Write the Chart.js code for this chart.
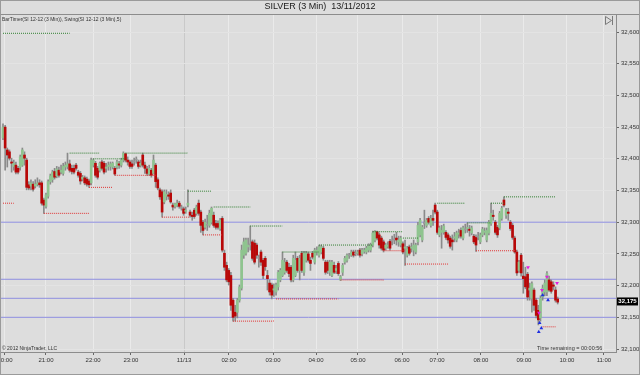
<!DOCTYPE html>
<html>
<head>
<meta charset="utf-8">
<script src="https://cdn.jsdelivr.net/npm/chart.js@4.4.1/dist/chart.umd.min.js"></script>
<style>
html,body{margin:0;padding:0;background:#dcdcdc;}
#wrap{width:640px;height:375px;position:relative;}
</style>
</head>
<body>
<div id="wrap"><canvas id="c" width="640" height="375"></canvas></div>
<script>
// ---- DATA (3-minute bars, SILVER) ----
const openP = [
32.433,32.450,32.414,32.411,32.395,32.388,32.390,32.385,32.387,32.390,
32.406,32.398,32.359,32.357,32.360,32.357,32.360,32.362,32.362,32.335,
32.325,32.341,32.364,32.367,32.380,32.373,32.382,32.379,32.377,32.387,
32.388,32.392,32.385,32.385,32.390,32.379,32.377,32.368,32.370,32.368,
32.365,32.362,32.390,32.393,32.385,32.382,32.395,32.393,32.385,32.388,
32.388,32.387,32.385,32.387,32.392,32.390,32.398,32.408,32.398,32.395,
32.392,32.395,32.398,32.395,32.390,32.406,32.390,32.384,32.376,32.382,
32.377,32.390,32.367,32.351,32.348,32.332,32.341,32.343,32.346,32.327,
32.325,32.327,32.330,32.324,32.321,32.317,32.327,32.316,32.311,32.319,
32.314,32.330,32.316,32.300,32.292,32.295,32.295,32.300,32.311,32.298,
32.298,32.290,32.306,32.251,32.232,32.224,32.216,32.177,32.158,32.158,
32.177,32.196,32.248,32.251,32.261,32.266,32.269,32.267,32.264,32.245,
32.253,32.240,32.243,32.216,32.204,32.201,32.193,32.190,32.198,32.209,
32.216,32.221,32.237,32.229,32.229,32.209,32.216,32.243,32.224,32.251,
32.221,32.240,32.250,32.240,32.251,32.237,32.253,32.248,32.253,32.259,
32.237,32.237,32.221,32.216,32.232,32.224,32.235,32.209,32.221,32.237,
32.240,32.247,32.248,32.253,32.250,32.251,32.256,32.250,32.254,32.253,
32.256,32.256,32.264,32.272,32.285,32.280,32.275,32.269,32.259,32.262,
32.270,32.272,32.272,32.275,32.269,32.264,32.266,32.259,32.248,32.261,
32.259,32.256,32.253,32.269,32.280,32.272,32.298,32.295,32.306,32.295,
32.306,32.327,32.316,32.280,32.284,32.284,32.284,32.280,32.275,32.272,
32.275,32.272,32.281,32.287,32.275,32.288,32.290,32.289,32.283,32.278,
32.276,32.277,32.269,32.280,32.284,32.272,32.283,32.298,32.311,32.300,
32.292,32.291,32.306,32.335,32.311,32.316,32.300,32.295,32.275,32.253,
32.224,32.248,32.215,32.214,32.218,32.193,32.180,32.193,32.177,32.161,
32.149,32.182,32.190,32.190,32.209,32.206,32.201,32.193,32.179];
const highP = [
32.455,32.453,32.417,32.414,32.401,32.398,32.395,32.388,32.406,32.417,
32.411,32.401,32.364,32.367,32.364,32.367,32.370,32.367,32.365,32.338,
32.346,32.367,32.376,32.382,32.385,32.388,32.387,32.390,32.393,32.395,
32.409,32.398,32.390,32.390,32.393,32.382,32.380,32.374,32.373,32.371,
32.368,32.401,32.400,32.396,32.388,32.395,32.398,32.396,32.393,32.395,
32.395,32.395,32.388,32.398,32.396,32.401,32.411,32.409,32.403,32.398,
32.398,32.401,32.403,32.398,32.398,32.409,32.395,32.388,32.390,32.385,
32.406,32.393,32.370,32.354,32.351,32.351,32.351,32.348,32.351,32.330,
32.330,32.335,32.333,32.327,32.324,32.324,32.351,32.319,32.316,32.322,
32.327,32.335,32.319,32.303,32.305,32.311,32.319,32.324,32.316,32.303,
32.302,32.306,32.309,32.256,32.237,32.227,32.221,32.180,32.169,32.180,
32.201,32.264,32.275,32.275,32.275,32.294,32.272,32.272,32.267,32.248,
32.256,32.243,32.246,32.224,32.209,32.204,32.203,32.204,32.224,32.227,
32.253,32.243,32.240,32.235,32.232,32.248,32.253,32.246,32.248,32.254,
32.254,32.254,32.253,32.245,32.254,32.259,32.261,32.264,32.264,32.262,
32.240,32.240,32.240,32.240,32.237,32.232,32.238,32.216,32.235,32.246,
32.250,32.251,32.256,32.256,32.256,32.256,32.259,32.259,32.259,32.262,
32.266,32.267,32.286,32.287,32.286,32.283,32.278,32.272,32.267,32.269,
32.273,32.278,32.281,32.284,32.278,32.278,32.269,32.272,32.262,32.264,
32.267,32.272,32.267,32.300,32.306,32.295,32.319,32.306,32.309,32.311,
32.319,32.330,32.319,32.294,32.295,32.297,32.287,32.283,32.278,32.280,
32.284,32.286,32.289,32.291,32.294,32.297,32.299,32.295,32.294,32.281,
32.280,32.284,32.283,32.292,32.291,32.291,32.303,32.330,32.319,32.303,
32.295,32.317,32.325,32.340,32.322,32.322,32.303,32.298,32.278,32.256,
32.240,32.251,32.237,32.229,32.221,32.204,32.206,32.196,32.180,32.169,
32.184,32.201,32.209,32.222,32.215,32.209,32.206,32.198,32.182];
const lowP = [
32.430,32.382,32.387,32.398,32.379,32.382,32.376,32.376,32.382,32.388,
32.390,32.351,32.351,32.351,32.349,32.354,32.357,32.355,32.327,32.314,
32.322,32.338,32.360,32.363,32.368,32.370,32.371,32.376,32.374,32.382,
32.384,32.379,32.376,32.376,32.382,32.371,32.360,32.365,32.359,32.357,
32.355,32.359,32.387,32.371,32.368,32.379,32.382,32.376,32.379,32.382,
32.382,32.384,32.374,32.384,32.385,32.387,32.395,32.395,32.390,32.385,
32.385,32.390,32.393,32.385,32.387,32.387,32.377,32.374,32.374,32.371,
32.376,32.355,32.351,32.336,32.308,32.329,32.335,32.336,32.330,32.319,
32.322,32.324,32.322,32.319,32.311,32.314,32.324,32.308,32.303,32.306,
32.311,32.311,32.284,32.280,32.289,32.287,32.292,32.297,32.292,32.289,
32.289,32.287,32.253,32.224,32.206,32.201,32.161,32.144,32.144,32.149,
32.174,32.193,32.243,32.248,32.253,32.256,32.240,32.234,32.243,32.229,
32.232,32.211,32.224,32.193,32.185,32.179,32.183,32.185,32.193,32.206,
32.214,32.218,32.221,32.214,32.206,32.206,32.214,32.221,32.209,32.221,
32.216,32.237,32.237,32.224,32.242,32.234,32.248,32.245,32.250,32.240,
32.218,32.219,32.216,32.214,32.219,32.219,32.216,32.208,32.216,32.234,
32.237,32.243,32.246,32.245,32.247,32.248,32.245,32.247,32.251,32.250,
32.253,32.253,32.261,32.269,32.272,32.259,32.256,32.253,32.256,32.259,
32.256,32.264,32.266,32.264,32.262,32.261,32.250,32.232,32.245,32.248,
32.253,32.247,32.250,32.264,32.277,32.269,32.290,32.292,32.297,32.292,
32.295,32.313,32.281,32.277,32.259,32.281,32.273,32.267,32.259,32.256,
32.269,32.269,32.275,32.275,32.272,32.283,32.284,32.278,32.280,32.266,
32.254,32.272,32.266,32.277,32.280,32.269,32.280,32.295,32.303,32.281,
32.276,32.288,32.303,32.324,32.306,32.303,32.287,32.273,32.251,32.216,
32.221,32.215,32.188,32.195,32.177,32.177,32.158,32.161,32.149,32.138,
32.144,32.177,32.184,32.184,32.191,32.188,32.193,32.174,32.171];
const closeP = [
32.450,32.417,32.406,32.401,32.393,32.393,32.379,32.379,32.403,32.414,
32.401,32.355,32.354,32.362,32.352,32.360,32.362,32.359,32.330,32.327,
32.343,32.364,32.373,32.379,32.371,32.384,32.374,32.382,32.388,32.390,
32.392,32.382,32.380,32.379,32.385,32.374,32.365,32.371,32.362,32.360,
32.359,32.398,32.398,32.374,32.371,32.393,32.385,32.379,32.387,32.390,
32.392,32.393,32.376,32.395,32.390,32.398,32.409,32.398,32.395,32.388,
32.388,32.396,32.398,32.388,32.393,32.390,32.385,32.377,32.385,32.374,
32.398,32.364,32.354,32.340,32.316,32.348,32.344,32.341,32.332,32.324,
32.329,32.330,32.325,32.322,32.314,32.319,32.330,32.311,32.309,32.309,
32.324,32.314,32.295,32.287,32.300,32.297,32.314,32.322,32.295,32.292,
32.292,32.303,32.256,32.229,32.209,32.206,32.169,32.150,32.152,32.177,
32.198,32.256,32.269,32.272,32.264,32.264,32.243,32.237,32.248,32.243,
32.237,32.216,32.230,32.211,32.190,32.185,32.195,32.201,32.221,32.224,
32.240,32.237,32.224,32.219,32.209,32.243,32.240,32.224,32.243,32.224,
32.251,32.251,32.240,32.235,32.245,32.256,32.256,32.261,32.261,32.243,
32.221,32.224,32.237,32.237,32.221,32.227,32.219,32.214,32.232,32.243,
32.248,32.248,32.253,32.248,32.251,32.253,32.248,32.256,32.256,32.259,
32.262,32.264,32.283,32.285,32.275,32.264,32.259,32.256,32.264,32.264,
32.259,32.270,32.273,32.272,32.272,32.275,32.253,32.261,32.258,32.251,
32.261,32.264,32.264,32.295,32.303,32.292,32.300,32.303,32.300,32.306,
32.303,32.316,32.284,32.291,32.287,32.294,32.276,32.272,32.262,32.269,
32.277,32.283,32.283,32.278,32.291,32.289,32.292,32.287,32.291,32.269,
32.264,32.276,32.280,32.289,32.286,32.287,32.300,32.314,32.309,32.284,
32.280,32.314,32.322,32.327,32.319,32.314,32.290,32.276,32.253,32.220,
32.237,32.220,32.211,32.198,32.182,32.196,32.203,32.169,32.153,32.146,
32.180,32.196,32.204,32.219,32.193,32.191,32.199,32.177,32.174];

// x-axis time labels (positioned by bar index)
const xTickPos    = [0.93, 20.0, 41.9, 59.5, 84.2, 105.1, 125.6, 145.6, 165.1, 185.6, 201.9, 222.3, 242.3, 262.3, 279.5];
const xTickLabels = ['20:00','21:00','22:00','23:00','11/13','02:00','03:00','04:00','05:00','06:00','07:00','08:00','09:00','10:00','11:00'];
const yTicks = [32.10, 32.15, 32.20, 32.25, 32.30, 32.35, 32.40, 32.45, 32.50, 32.55, 32.60];

// Swing indicator levels (price, first bar, last bar)
const swingHighLevel = [32.598, 32.409, 32.400, 32.409, 32.349, 32.324, 32.294, 32.253, 32.264, 32.285, 32.275, 32.330, 32.299, 32.330, 32.340];
const swingHighStart = [0, 31, 42, 57, 86, 98, 115, 130, 147, 172, 186, 202, 216, 227, 233];
const swingHighEnd   = [31, 45, 57, 86, 97, 115, 130, 147, 172, 186, 193, 215, 227, 233, 257];
const swingLowLevel  = [32.330, 32.314, 32.355, 32.374, 32.308, 32.280, 32.144, 32.179, 32.209, 32.255, 32.234, 32.255, 32.135];
const swingLowStart  = [0, 19, 40, 52, 74, 93, 107, 127, 157, 177, 187, 220, 251];
const swingLowEnd    = [5, 40, 51, 71, 87, 102, 126, 156, 177, 187, 207, 239, 257];

// horizontal reference lines
const refLevels = [32.300, 32.210, 32.180, 32.150];

// signal arrows
const downArrowX = [244.2, 250.7, 253.0, 257.7, 249.3];
const downArrowY = [32.229, 32.193, 32.214, 32.204, 32.157];
const upArrowX   = [249.6, 250.4, 251.0, 253.5, 249.2];
const upArrowY   = [32.141, 32.133, 32.185, 32.177, 32.127];

const lastPrice = 32.175;

// ---- CHART ----
const X_MIN = -0.93, X_MAX = 285.12;
Chart.defaults.font.family = "'Liberation Sans', Arial, sans-serif";

const idx = closeP.map((_, i) => i);
function bodyColor(i) {
  const d = closeP[i] - openP[i];
  if (Math.abs(d) < 0.002) return '#9a9a9a';
  return d > 0 ? '#8fc48f' : '#b80808';
}

const datasets = [];
datasets.push({
  type: 'bar', label: 'wick', order: 5, grouped: false,
  data: idx.map(i => ({x: i, y: [lowP[i], highP[i]]})),
  backgroundColor: '#8a8a8a', barThickness: 1, minBarLength: 1
});
datasets.push({
  type: 'bar', label: 'body', order: 4, grouped: false,
  data: idx.map(i => ({x: i, y: [openP[i], closeP[i]]})),
  backgroundColor: idx.map(bodyColor), barThickness: 2, minBarLength: 1
});
refLevels.forEach(v => datasets.push({
  type: 'line', order: 6,
  data: [{x: X_MIN, y: v}, {x: X_MAX, y: v}],
  borderColor: '#8e8ee0', borderWidth: 1, pointRadius: 0
}));
swingHighLevel.forEach((v, k) => datasets.push({
  type: 'line', order: 3,
  data: [{x: swingHighStart[k], y: v}, {x: swingHighEnd[k], y: v}],
  borderColor: '#2f7d2f', borderWidth: 1, borderDash: [1, 1], pointRadius: 0
}));
swingLowLevel.forEach((v, k) => datasets.push({
  type: 'line', order: 3,
  data: [{x: swingLowStart[k], y: v}, {x: swingLowEnd[k], y: v}],
  borderColor: '#e03434', borderWidth: 1, borderDash: [1, 1], pointRadius: 0
}));
datasets.push({
  type: 'scatter', order: 1,
  data: downArrowX.map((x, k) => ({x, y: downArrowY[k]})),
  pointStyle: 'triangle', rotation: 180, pointRadius: 2.2,
  backgroundColor: '#e01ee0', borderColor: '#e01ee0', borderWidth: 0
});
datasets.push({
  type: 'scatter', order: 1,
  data: upArrowX.map((x, k) => ({x, y: upArrowY[k]})),
  pointStyle: 'triangle', pointRadius: 2.2,
  backgroundColor: '#1e2ee0', borderColor: '#1e2ee0', borderWidth: 0
});

const decor = {
  id: 'decor',
  beforeDraw(chart) {
    const ctx = chart.ctx;
    ctx.save();
    ctx.fillStyle = '#dddddd';
    ctx.fillRect(0, 0, chart.width, chart.height);
    ctx.restore();
  },
  afterDraw(chart) {
    const ctx = chart.ctx, a = chart.chartArea, ys = chart.scales.y;
    ctx.save();
    // frame
    ctx.strokeStyle = '#8c8c8c'; ctx.lineWidth = 1;
    ctx.beginPath();
    ctx.moveTo(0, a.top + 0.5); ctx.lineTo(chart.width, a.top + 0.5);
    ctx.moveTo(a.right + 0.5, a.top); ctx.lineTo(a.right + 0.5, a.bottom);
    ctx.moveTo(0, a.bottom + 0.5); ctx.lineTo(a.right + 1, a.bottom + 0.5);
    ctx.stroke();
    ctx.strokeStyle = '#9a9a9a';
    ctx.strokeRect(0.5, 0.5, chart.width - 1, chart.height - 1);
    // title
    ctx.fillStyle = '#1a1a1a';
    ctx.font = "9px 'Liberation Sans', Arial";
    ctx.textAlign = 'center'; ctx.textBaseline = 'middle';
    ctx.fillText('SILVER (3 Min)  13/11/2012', 320, 7);
    // indicator legend
    ctx.font = "5px 'Liberation Sans', Arial";
    ctx.textAlign = 'left';
    ctx.fillStyle = '#333';
    ctx.fillText('BarTimer(SI 12-12 (3 Min)), Swing(SI 12-12 (3 Min),5)', 2, 20);
    ctx.fillText('\u00A9 2012 NinjaTrader, LLC', 2, 349);
    ctx.font = "5.5px 'Liberation Sans', Arial";
    ctx.fillText('Time remaining = 00:00:56', 537, 348);
    // scroll icon
    ctx.strokeStyle = '#7a7a7a'; ctx.lineWidth = 1;
    ctx.beginPath();
    ctx.moveTo(605.5, 16.5); ctx.lineTo(611.5, 20.5); ctx.lineTo(605.5, 24.5); ctx.closePath();
    ctx.moveTo(612.5, 16); ctx.lineTo(612.5, 25);
    ctx.stroke();
    // last price marker
    const py = ys.getPixelForValue(lastPrice);
    ctx.fillStyle = '#000';
    ctx.fillRect(a.right + 1, py - 4, 21, 8);
    ctx.fillStyle = '#fff';
    ctx.font = "bold 6px 'Liberation Sans', Arial";
    ctx.textAlign = 'center';
    ctx.fillText(lastPrice.toFixed(3).replace('.', ','), a.right + 11.5, py);
    ctx.restore();
  }
};

new Chart(document.getElementById('c'), {
  type: 'bar',
  data: { datasets },
  options: {
    responsive: false, animation: false,
    layout: { autoPadding: false, padding: { top: 14, left: 1, right: 0, bottom: 0 } },
    plugins: { legend: { display: false }, tooltip: { enabled: false }, title: { display: false } },
    scales: {
      x: {
        type: 'linear', min: X_MIN, max: X_MAX, offset: false,
        afterBuildTicks: s => { s.ticks = xTickPos.map(v => ({value: v})); },
        afterFit: s => { s.height = 23; s.paddingLeft = 0; s.paddingRight = 0; },
        ticks: {
          autoSkip: false, maxRotation: 0, minRotation: 0, padding: 2,
          font: { size: 6 }, color: '#333',
          callback: (v, i) => xTickLabels[i]
        },
        grid: {
          offset: false, drawOnChartArea: true, tickLength: 3,
          color: ctx => (xTickLabels[ctx.index] === '11/13' ? '#c9c9c9' : '#eaeaea'),
          tickColor: '#666'
        },
        border: { display: true, color: '#8c8c8c' }
      },
      y: {
        position: 'right', min: 32.0953, max: 32.6284,
        afterBuildTicks: s => { s.ticks = yTicks.map(v => ({value: v})); },
        afterFit: s => { s.width = 24; s.paddingTop = 0; s.paddingBottom = 0; },
        ticks: {
          padding: 2, font: { size: 6 }, color: '#333',
          callback: v => Number(v).toFixed(3).replace('.', ',')
        },
        grid: { drawOnChartArea: true, color: '#e3e3e3', tickLength: 3, tickColor: '#666' },
        border: { display: true, color: '#8c8c8c' }
      }
    }
  },
  plugins: [decor]
});
</script>
</body>
</html>
